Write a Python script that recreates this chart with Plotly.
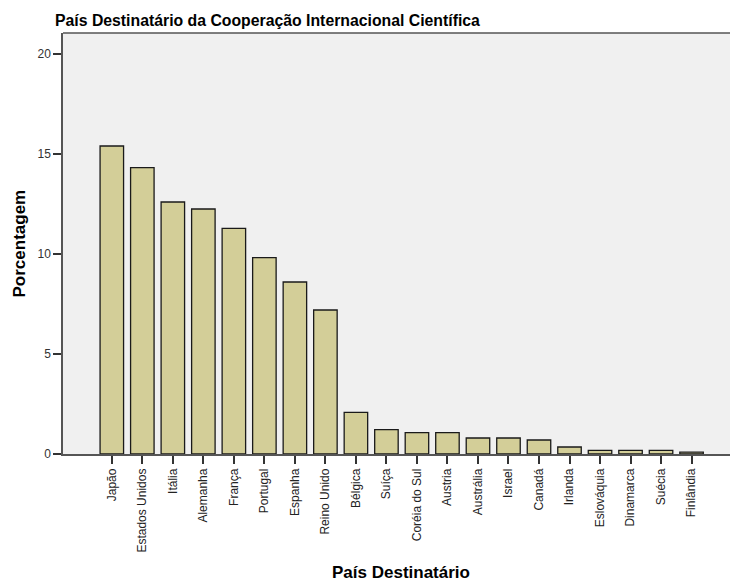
import plotly.graph_objects as go

countries = ["Japão", "Estados Unidos", "Itália", "Alemanha", "França", "Portugal",
             "Espanha", "Reino Unido", "Bélgica", "Suíça", "Coréia do Sul", "Austria",
             "Austrália", "Israel", "Canadá", "Irlanda", "Eslováquia", "Dinamarca",
             "Suécia", "Finlândia"]
percent = [15.4, 14.32, 12.6, 12.25, 11.28, 9.82, 8.6, 7.2, 2.08, 1.22, 1.07, 1.07,
           0.8, 0.8, 0.7, 0.35, 0.18, 0.18, 0.18, 0.09]
y_ticks = [0, 5, 10, 15, 20]

fig = go.Figure(go.Bar(
    x=list(range(len(countries))), y=percent,
    width=0.77,
    marker=dict(color="#D3CE98", line=dict(color="#1a1a1a", width=1.3)),
))

fig.update_layout(
    width=730, height=581,
    margin=dict(l=63, r=0, t=33, b=127),
    paper_bgcolor="white", plot_bgcolor="#F0F0F0",
    showlegend=False,
    font=dict(family="Liberation Sans, Arial, sans-serif", color="#222"),
    title=dict(text="<b>País Destinatário da Cooperação Internacional Científica</b>",
               x=55/730, xanchor="left", y=1-26/581, yanchor="bottom",
               font=dict(family="Liberation Sans, Arial", size=15.8, color="black")),
)
fig.update_xaxes(
    range=[-1.6, 20.26], tickmode="array",
    tickvals=list(range(len(countries))), ticktext=countries,
    tickangle=-90, tickfont=dict(size=12, color="#222"),
    ticks="outside", ticklen=8, tickcolor="#333", tickwidth=1.5,
    showline=True, linecolor="#555", linewidth=1.5, showgrid=False, zeroline=False,
    automargin=False,
)
fig.update_yaxes(
    range=[0, 21.05], tickmode="array", tickvals=y_ticks,
    tickfont=dict(size=12, color="#333"),
    ticks="outside", ticklen=8, tickcolor="#333", tickwidth=1.5,
    showline=True, linecolor="#555", linewidth=1.5, mirror=False,
    showgrid=False, zeroline=False, automargin=False,
)
# axis titles
fig.add_annotation(text="<b>País Destinatário</b>", xref="paper", yref="paper",
                   x=(401-63)/667, y=-(572.5-454)/421, xanchor="center", yanchor="middle",
                   showarrow=False, font=dict(size=17, color="black"))
fig.add_annotation(text="<b>Porcentagem</b>", xref="paper", yref="paper",
                   x=-(63-18.5)/667, y=(454-244)/421, xanchor="center", yanchor="middle",
                   textangle=-90, showarrow=False, font=dict(size=17, color="black"))
# top border of plot area
fig.add_shape(type="line", xref="paper", yref="paper", x0=0, x1=1, y0=1, y1=1,
              line=dict(color="#555", width=1.5))

fig.write_html("out.html", config={"displayModeBar": False},
               post_script="document.body.style.margin='0';document.body.style.overflow='hidden';")
